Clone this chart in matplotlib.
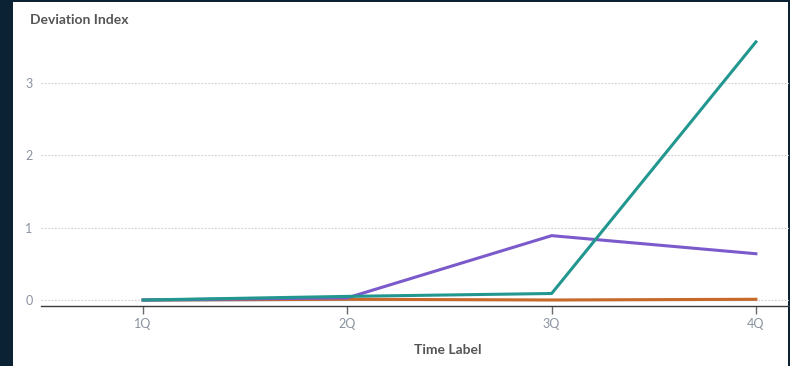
import matplotlib
matplotlib.use("Agg")
import matplotlib.pyplot as plt
from matplotlib.patches import Rectangle

plt.rcParams['font.family'] = ['Lato', 'DejaVu Sans']

# data
quarters = ['1Q', '2Q', '3Q', '4Q']
series_blue = [-0.01, 0.0, 0.0, 0.0]
series_orange = [0.0, 0.01, 0.0, 0.01]
series_purple = [0.0, 0.03, 0.89, 0.64]
series_teal = [0.0, 0.05, 0.09, 3.57]

fig = plt.figure(figsize=(7.9, 3.66), dpi=100)
fig.patch.set_facecolor('#0b2234')
# white card behind the axes
fig.patches.append(Rectangle((13 / 790, 0), 775 / 790, 364 / 366,
                             transform=fig.transFigure, facecolor='white',
                             edgecolor='none', zorder=-10))

ax = fig.add_axes([41 / 790, 1 - 306 / 366, 748 / 790, (306 - 32) / 366])
ax.set_facecolor('none')
ax.set_zorder(5)

x = list(range(len(quarters)))
ax.plot(x, series_blue, color='#a9cce3', lw=1.6, zorder=2)
ax.plot(x, series_orange, color='#c8692a', lw=2.2, zorder=3)
ax.plot(x, series_purple, color='#7b5acb', lw=2.2, zorder=4)
ax.plot(x, series_teal, color='#22978f', lw=2.2, zorder=5)

ax.set_xlim(-0.5, 3.162)
ax.set_ylim(-0.083, 3.707)
ax.set_xticks(x)
ax.set_xticklabels(quarters)
ax.set_yticks([0, 1, 2, 3])

ax.grid(axis='y', color='#cfcfcf', linestyle=(0, (1.5, 1.5)), lw=0.8)
ax.set_axisbelow(True)
for side in ['top', 'right', 'left']:
    ax.spines[side].set_visible(False)
ax.spines['bottom'].set_color('#3a3a3a')
ax.spines['bottom'].set_linewidth(1.0)

ax.tick_params(axis='x', colors='#8a93a0', labelsize=9, length=6, width=1,
               pad=3)
ax.tick_params(axis='x', color='#6a6a6a')
ax.tick_params(axis='y', colors='#8a93a0', labelsize=9, length=0, pad=6)

fig.text(30 / 790, 1 - 20 / 366, 'Deviation Index', fontsize=10,
         fontweight='bold', color='#555555', ha='left', va='center')
fig.text(448 / 790, 1 - 350 / 366, 'Time Label', fontsize=10,
         fontweight='bold', color='#555555', ha='center', va='center')

fig.savefig('out.png', dpi=100, facecolor=fig.get_facecolor())
